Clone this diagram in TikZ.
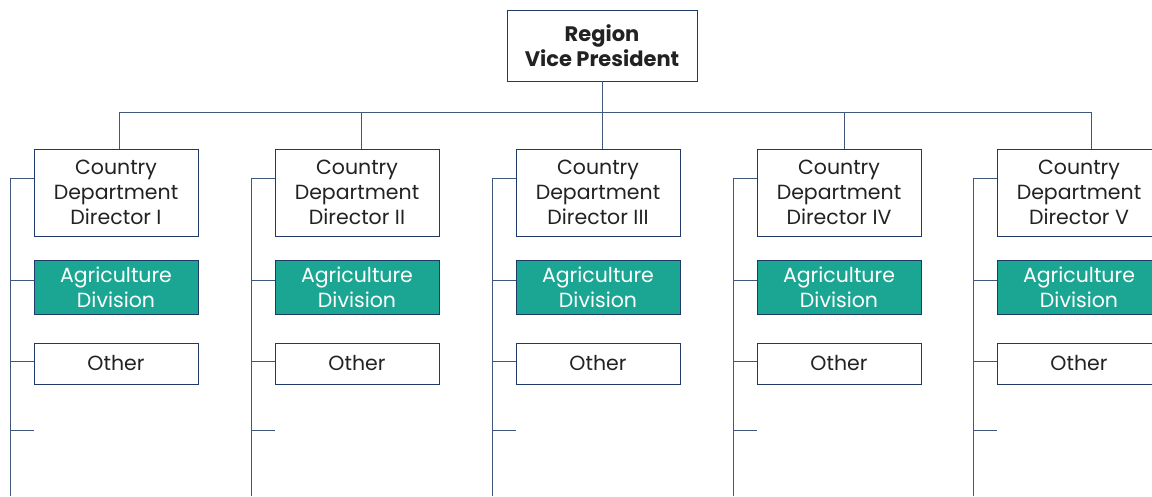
\documentclass[tikz,border=0pt]{standalone}
\usepackage{fontspec}
\setmainfont{Poppins}
\usepackage{tikz}
\definecolor{navy}{HTML}{1F3A66}
\definecolor{teal}{HTML}{1AA693}
\definecolor{ink}{HTML}{222222}

\begin{document}
\begin{tikzpicture}[x=1pt, y=-1pt,
    box/.style={draw=navy, line width=0.9pt, fill=white, text=ink,
      align=center, inner sep=0pt, font=\fontsize{20.5}{25}\selectfont},
    agri/.style={box, fill=teal, text=white},
    link/.style={draw=navy!85!white, line width=0.9pt}]
  \useasboundingbox (0,0) rectangle (1152,496);
  % top box
  \node[box, minimum width=190pt, minimum height=71pt,
    font=\fontsize{21}{25}\selectfont\bfseries] (vp) at (602,45.5)
    {Region\\Vice President};
  \coordinate (bus) at (602,112);
  \draw[link] (vp.south) -- (bus);
  \foreach[count=\i] \lft/\drop/\num in {%
      34/119/I,
      275/361/II,
      516/602/III,
      757/844/IV,
      997/1091/V
      } {
    \pgfmathsetmacro\xc{\lft + 82}
    \pgfmathsetmacro\xt{\lft - 24}
    \node[box, minimum width=164pt, minimum height=87pt] (dir\i)
      at (\xc, 192.5) {Country\\Department\\Director \num};
    \node[agri, minimum width=164pt, minimum height=54pt] (div\i)
      at (\xc, 287) {Agriculture\\Division};
    \node[box, minimum width=164pt, minimum height=41pt] (oth\i)
      at (\xc, 363.5) {Other};
    \coordinate (top\i) at (\drop, 112);
    \coordinate (trk\i) at (\xt, 178);
    \coordinate (end\i) at (\xt, 496);
    \coordinate (stub\i) at (\lft, 430);
    % drop from the bus and the trunk
    \draw[link] (top\i) -- (top\i |- dir\i.north);
    \draw[link] (trk\i) -- (end\i);
    \draw[link] (trk\i) -- (trk\i -| dir\i.west);
    \draw[link] ([yshift=7pt]div\i.west -| trk\i) -- ([yshift=7pt]div\i.west);
    \draw[link] ([yshift=2.5pt]oth\i.west -| trk\i) -- ([yshift=2.5pt]oth\i.west);
    \draw[link] (stub\i -| trk\i) -- (stub\i);
  }
  \draw[link] (top1) -- (top5);
\end{tikzpicture}
\end{document}
